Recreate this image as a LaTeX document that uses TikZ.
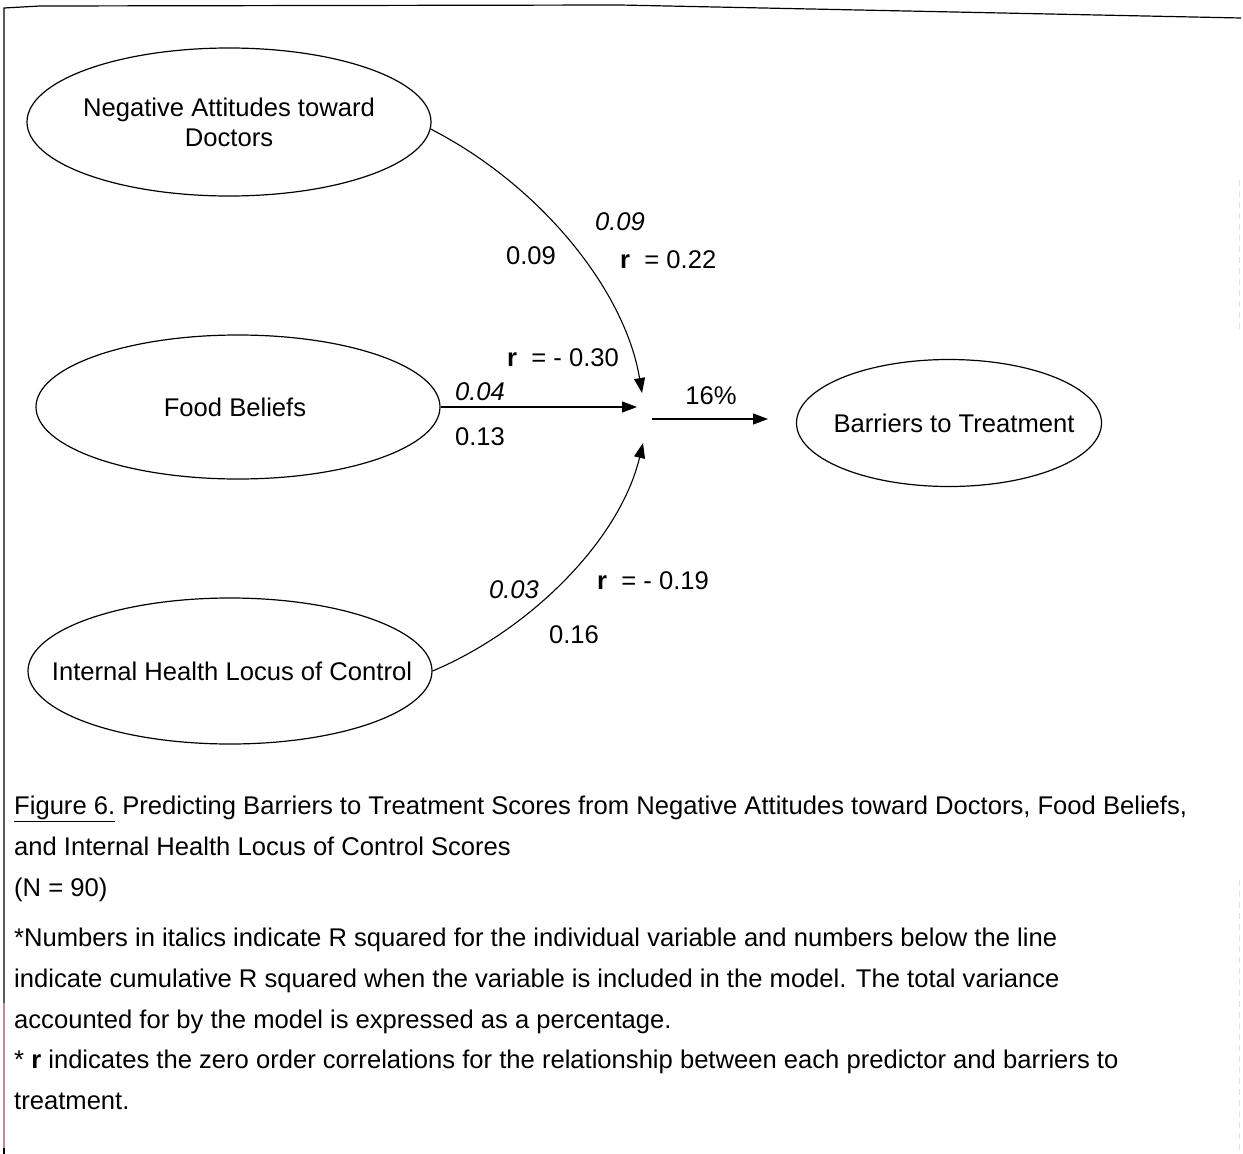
\documentclass[tikz,border=0pt]{standalone}
\usepackage{fontspec}
\setmainfont{Liberation Sans}
\usetikzlibrary{shapes.geometric,arrows.meta}
\definecolor{edgepink}{RGB}{185,140,150}
\begin{document}
\begin{tikzpicture}[x=1pt,y=-1pt,
  every node/.style={font=\fontsize{25.6}{30}\selectfont},
  latent/.style={draw, ellipse, line width=1.2pt, inner sep=0pt},
  lbl/.style={inner sep=0pt},
  captext/.style={inner sep=0pt, anchor=base west},
  link/.style={line width=1.1pt, -{Triangle[length=15pt,width=11pt]}},
  frameline/.style={line width=1.2pt}]
\useasboundingbox (0,0) rectangle (1243,1154);

% page frame
\draw[frameline] (4,1003) -- (4,8) -- (40,6) -- (620,5) -- (1241,18);
\draw[frameline, edgepink] (4,1003) -- (4,1148);
\draw[frameline] (4,1148) -- (4,1154);
\draw[black!12, line width=1pt, dash pattern=on 6pt off 5pt] (1239,180) -- (1239,330);
\draw[black!12, line width=1pt, dash pattern=on 6pt off 5pt] (1239,880) -- (1239,1154);

% variables
\node[latent, minimum width=404pt, minimum height=148pt,
      label={[align=center, inner sep=0pt]center:Negative Attitudes toward\\Doctors}] (neg) at (229,122) {};
\node[latent, minimum width=404pt, minimum height=144pt,
      label={[inner sep=0pt, xshift=-3pt]center:Food Beliefs}] (food) at (238,407) {};
\node[latent, minimum width=404pt, minimum height=146pt,
      label={[inner sep=0pt, xshift=2pt]center:Internal Health Locus of Control}] (ihlc) at (230,671) {};
\node[latent, minimum width=305pt, minimum height=127pt,
      label={[inner sep=0pt, xshift=5pt]center:Barriers to Treatment}] (bar) at (949,423) {};

% junction points
\coordinate (tipA) at (642,393);
\coordinate (tipB) at (637,407);
\coordinate (tipC) at (643,443);
\coordinate (hubout) at (652,419);
\coordinate (barin) at (768,419);

% paths
\draw[link] (neg.-2) .. controls (540,185) and (625,290) .. (tipA);
\draw[link] (food.east) -- (tipB);
\draw[link] (ihlc.east) .. controls (530,630) and (620,540) .. (tipC);
\draw[link] (hubout) -- (barin);

% path labels
\node[lbl] (rA) at (620,222) {\textit{0.09}};
\node[lbl] (cA) at (531,256) {0.09};
\node[lbl, anchor=west] (zA) at (620,260) {\textbf{r}\ \ = 0.22};
\node[lbl, anchor=west] (zB) at (507,358) {\textbf{r}\ \ = - 0.30};
\node[lbl] (rB) at (480,392) {\textit{0.04}};
\node[lbl] (cB) at (480,437) {0.13};
\node[lbl] (tot) at (711,396) {16\%};
\node[lbl] (rC) at (514,590) {\textit{0.03}};
\node[lbl, anchor=west] (zC) at (597,581) {\textbf{r}\ \ = - 0.19};
\node[lbl] (cC) at (574,635) {0.16};

% caption and notes
\node[captext] (cap1) at (14,814) {\underline{Figure 6.}\ Predicting Barriers to Treatment Scores from Negative Attitudes toward Doctors, Food Beliefs,};
\node[captext] (cap2) at (14,855) {and Internal Health Locus of Control Scores};
\node[captext] (cap3) at (14,896) {(N = 90)};
\node[captext] (cap4) at (14,946) {*Numbers in italics indicate R squared for the individual variable and numbers below the line};
\node[captext] (cap5) at (14,987) {indicate cumulative R squared when the variable is included in the model. The total variance};
\node[captext] (cap6) at (14,1028) {accounted for by the model is expressed as a percentage.};
\node[captext] (cap7) at (14,1068) {* \textbf{r} indicates the zero order correlations for the relationship between each predictor and barriers to};
\node[captext] (cap8) at (14,1109) {treatment.};
\end{tikzpicture}
\end{document}
